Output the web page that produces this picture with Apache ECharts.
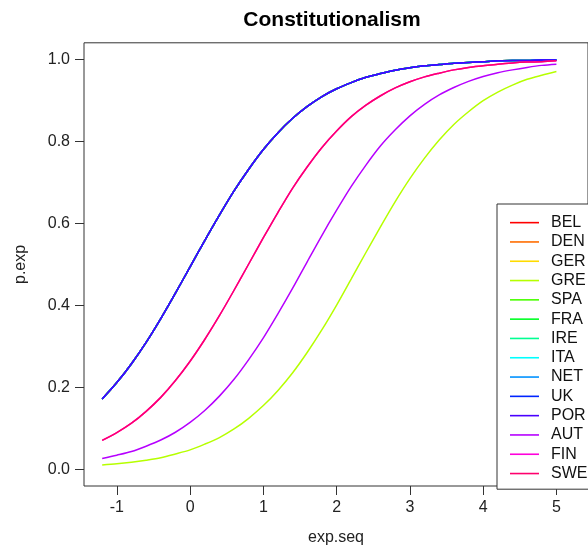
<!DOCTYPE html>
<html>
<head>
<meta charset="utf-8">
<script src="https://cdn.jsdelivr.net/npm/echarts@6/dist/echarts.min.js"></script>
<style>
html,body{margin:0;padding:0;background:#fff;}
#chart{width:588px;height:551px;}
</style>
</head>
<body>
<div id="chart"></div>
<script>
// x values (exp.seq)
const expSeq = [-1.2,-1.0,-0.8,-0.6,-0.4,-0.2,0.0,0.2,0.4,0.6,0.8,1.0,1.2,1.4,1.6,1.8,2.0,2.2,2.4,2.6,2.8,3.0,3.2,3.4,3.6,3.8,4.0,4.2,4.4,4.6,4.8,5.0];

// predicted probabilities (four distinct curves)
const curveHigh = [0.172,0.212,0.258,0.310,0.368,0.430,0.494,0.558,0.620,0.679,0.732,0.780,0.821,0.856,0.885,0.909,0.928,0.943,0.956,0.965,0.973,0.979,0.984,0.987,0.990,0.992,0.994,0.996,0.997,0.997,0.998,0.998];
const curveMid = [0.071,0.090,0.113,0.142,0.176,0.217,0.264,0.317,0.375,0.437,0.501,0.565,0.627,0.686,0.738,0.785,0.825,0.860,0.888,0.911,0.930,0.945,0.957,0.966,0.974,0.980,0.984,0.988,0.991,0.993,0.994,0.996];
const curveLowMid = [0.027,0.035,0.044,0.057,0.072,0.091,0.115,0.144,0.179,0.220,0.268,0.321,0.380,0.442,0.507,0.571,0.632,0.690,0.742,0.789,0.828,0.862,0.890,0.913,0.931,0.946,0.958,0.967,0.974,0.980,0.985,0.988];
const curveLow = [0.011,0.014,0.018,0.023,0.029,0.038,0.048,0.062,0.078,0.099,0.125,0.156,0.193,0.236,0.286,0.341,0.401,0.465,0.529,0.592,0.653,0.709,0.759,0.803,0.841,0.872,0.899,0.920,0.937,0.951,0.961,0.970];

const countries = ['BEL','DEN','GER','GRE','SPA','FRA','IRE','ITA','NET','UK','POR','AUT','FIN','SWE'];
const countryCurve = ['high','high','high','low','high','high','high','high','high','high','high','lowMid','mid','mid'];
const countryColors = ['#FF0000','#FF6D00','#FFDB00','#B6FF00','#49FF00','#00FF24','#00FF92','#00FFFF','#0092FF','#0024FF','#4900FF','#B600FF','#FF00DB','#FF006D'];

const xTicks = [-1,0,1,2,3,4,5];
const yTicks = [0,0.2,0.4,0.6,0.8,1.0];

const curves = {high: curveHigh, mid: curveMid, lowMid: curveLowMid, low: curveLow};
const FONT = "'Liberation Sans', Arial, sans-serif";

const series = countries.map((c, i) => ({
  name: c,
  type: 'line',
  data: expSeq.map((x, k) => [x, curves[countryCurve[i]][k]]),
  showSymbol: false,
  symbol: 'none',
  smooth: 0.3,
  color: countryColors[i],
  lineStyle: {width: 1.5, color: countryColors[i]},
  emphasis: {disabled: true},
  animation: false
}));

const chart = echarts.init(document.getElementById('chart'), null, {renderer: 'canvas'});
chart.setOption({
  backgroundColor: '#ffffff',
  animation: false,
  title: {
    text: 'Constitutionalism',
    left: 327,
    textAlign: 'center',
    top: 5,
    textStyle: {fontFamily: FONT, fontSize: 21, fontWeight: 'bold', color: '#000'}
  },
  grid: {
    left: 84, right: -10, top: 42.8, bottom: 61.8,
    show: true, borderColor: '#333', borderWidth: 1, backgroundColor: 'transparent'
  },
  xAxis: {
    type: 'value',
    min: -1.448, max: 5.431,
    name: 'exp.seq', nameLocation: 'middle', nameGap: 44,
    nameTextStyle: {fontFamily: FONT, fontSize: 16, color: '#222'},
    axisLine: {show: false, onZero: false},
    splitLine: {show: false},
    axisTick: {show: true, length: 9, lineStyle: {color: '#333', width: 1}, customValues: xTicks},
    axisLabel: {fontFamily: FONT, fontSize: 16, color: '#222', margin: 14, customValues: xTicks,
      formatter: v => String(v)}
  },
  yAxis: {
    type: 'value',
    min: -0.04, max: 1.04,
    name: 'p.exp', nameLocation: 'middle', nameGap: 55, nameRotate: 90,
    nameTextStyle: {fontFamily: FONT, fontSize: 16, color: '#222'},
    axisLine: {show: false, onZero: false},
    splitLine: {show: false},
    axisTick: {show: true, length: 9, lineStyle: {color: '#333', width: 1}, customValues: yTicks},
    axisLabel: {fontFamily: FONT, fontSize: 16, color: '#222', margin: 14, customValues: yTicks,
      formatter: v => v.toFixed(1)}
  },
  legend: {
    data: countries,
    orient: 'vertical',
    left: 497, top: 204,
    padding: [9, 30, 6, 13],
    icon: 'rect',
    itemWidth: 29, itemHeight: 1.6, itemGap: 0,
    borderColor: '#333', borderWidth: 1,
    backgroundColor: '#fff',
    selectedMode: false,
    textStyle: {fontFamily: FONT, fontSize: 16, color: '#111', lineHeight: 19.3, padding: [0, 0, 0, 7]}
  },
  series: series
});
</script>
</body>
</html>
